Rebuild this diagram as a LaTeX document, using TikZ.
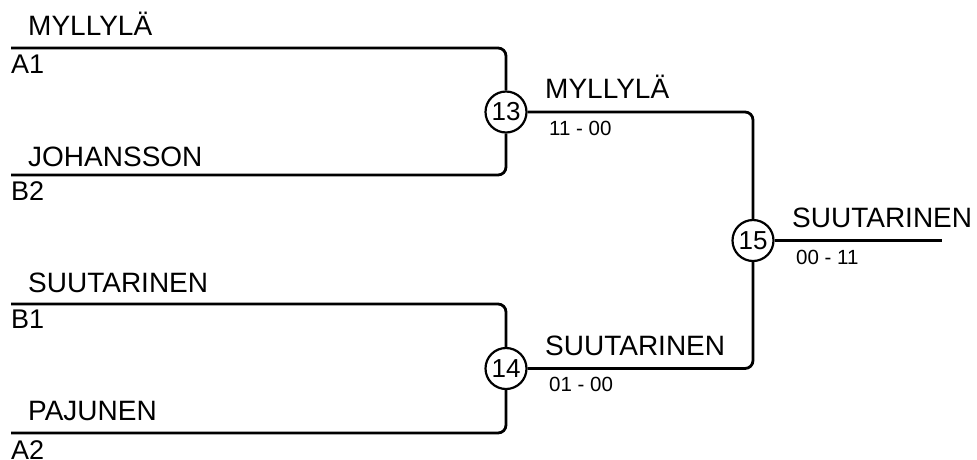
\documentclass[tikz,border=0pt]{standalone}
\usepackage{fontspec}
\setmainfont{Liberation Sans}
\begin{document}
\begin{tikzpicture}[x=1pt,y=-1pt,
  conn/.style={line width=2.8pt, rounded corners=8pt},
  match/.style={circle, draw, line width=2.2pt, minimum size=41pt, inner sep=0pt, font=\fontsize{26}{26}\selectfont},
  player/.style={anchor=base west, inner sep=0pt, font=\fontsize{28}{30}\selectfont},
  seedlbl/.style={anchor=base west, inner sep=0pt, font=\fontsize{27}{30}\selectfont},
  score/.style={anchor=base west, inner sep=0pt, font=\fontsize{20.5}{22}\selectfont}]
\useasboundingbox (0,0) rectangle (977,459);
% match circles
\node[match] (c13) at (506,112) {13};
\node[match] (c14) at (506,368.5) {14};
\node[match] (c15) at (753,240.5) {15};
% free line ends
\coordinate (a1) at (11,48);
\coordinate (b2) at (11,175);
\coordinate (b1) at (11,304);
\coordinate (a2) at (11,433);
\coordinate (fin) at (942,240.5);
% connectors
\draw[conn] (a1) -| (c13.north);
\draw[conn] (b2) -| (c13.south);
\draw[conn] (b1) -| (c14.north);
\draw[conn] (a2) -| (c14.south);
\draw[conn] (c13.east) -| (c15.north);
\draw[conn] (c14.east) -| (c15.south);
\draw[conn] (c15.east) -- (fin);
% player names and seeds
\node[player] (n1) at (28,35) {MYLLYLÄ};
\node[seedlbl] (s1) at (11,73) {A1};
\node[player] (n2) at (28,166) {JOHANSSON};
\node[seedlbl] (s2) at (11,200) {B2};
\node[player] (n3) at (28,292) {SUUTARINEN};
\node[seedlbl] (s3) at (11,328) {B1};
\node[player] (n4) at (28,420) {PAJUNEN};
\node[seedlbl] (s4) at (11,459.5) {A2};
% winners and scores
\node[player] (w13) at (545,98) {MYLLYLÄ};
\node[score] (r13) at (549,135) {11 - 00};
\node[player] (w14) at (545,355) {SUUTARINEN};
\node[score] (r14) at (549,391) {01 - 00};
\node[player] (w15) at (792,227) {SUUTARINEN};
\node[score] (r15) at (796,264) {00 - 11};
\end{tikzpicture}
\end{document}
